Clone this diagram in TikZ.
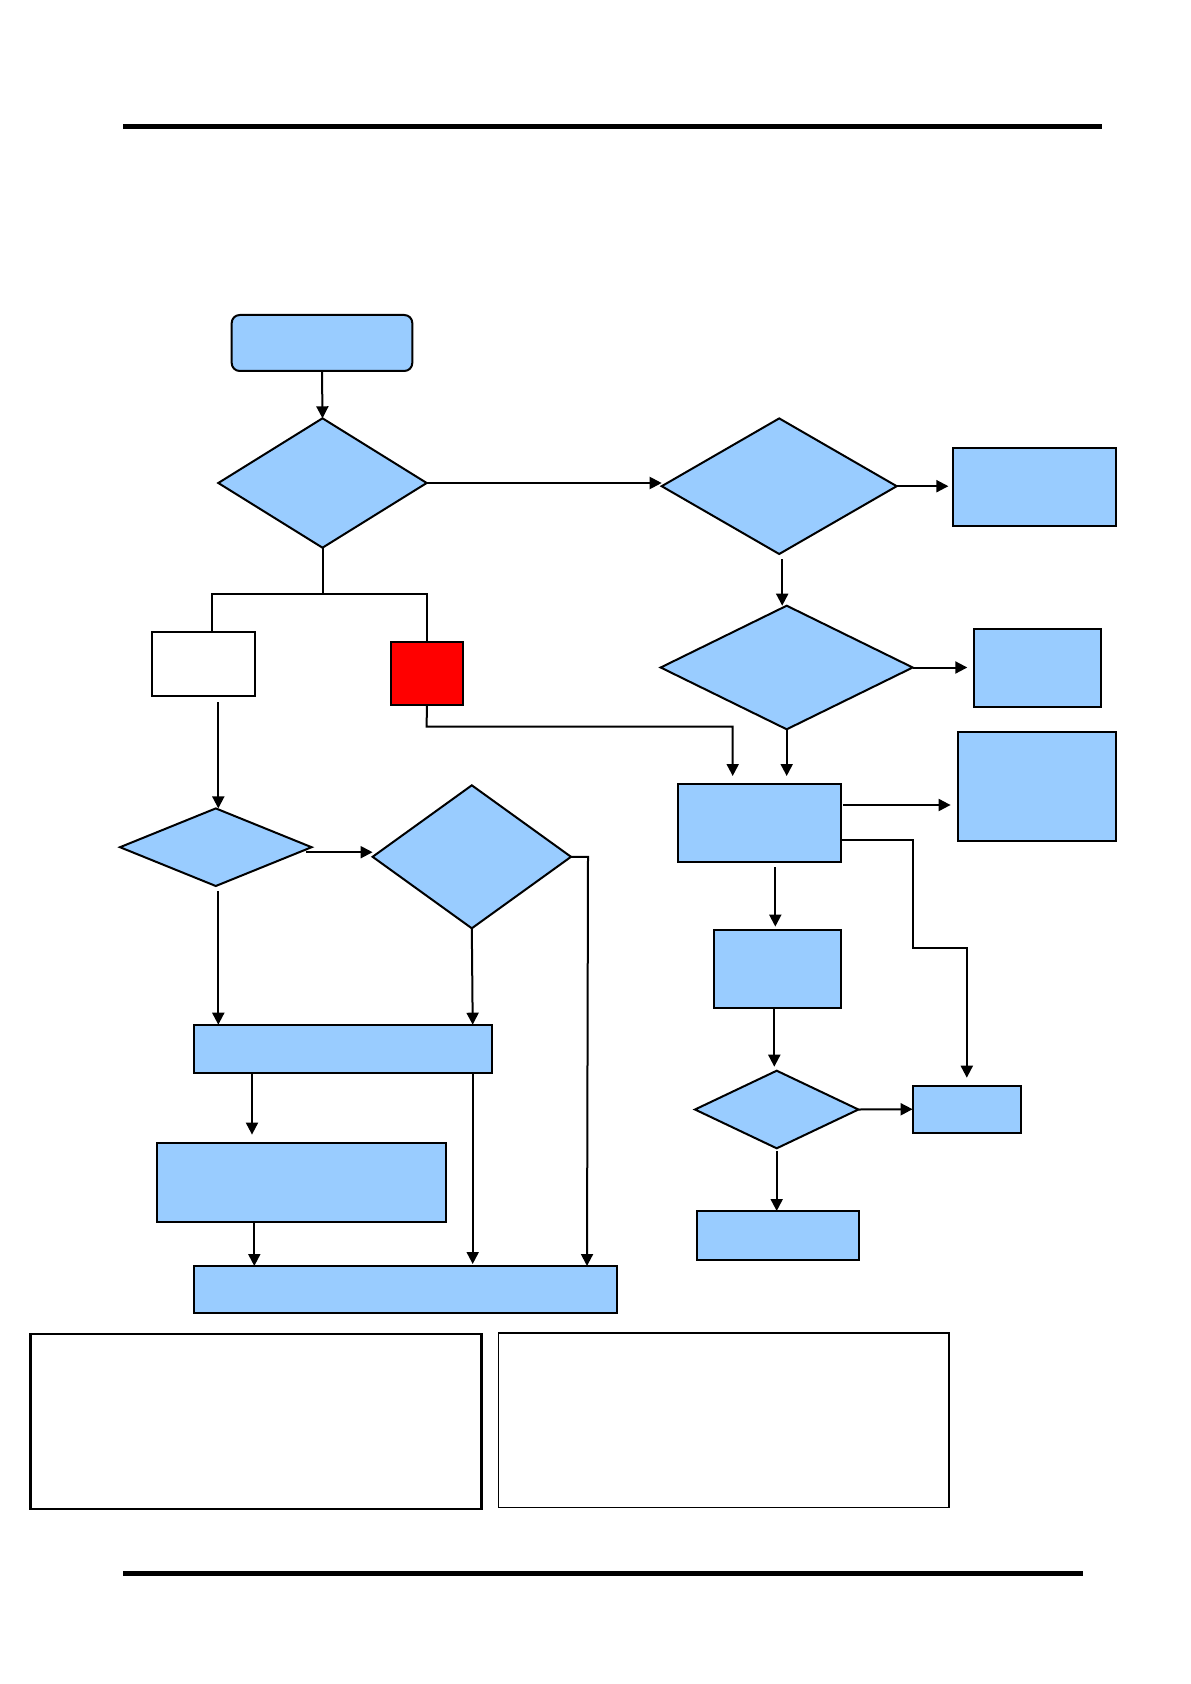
\documentclass[tikz,border=0pt]{standalone}
\usetikzlibrary{arrows.meta,shapes.geometric,calc}
\definecolor{lblue}{HTML}{99CCFF}
\definecolor{rred}{HTML}{FF0000}
\begin{document}
\begin{tikzpicture}[x=0.5pt,y=-0.5pt,
  box/.style={draw, line width=1pt, fill=lblue, inner sep=0pt, outer sep=0pt},
  dia/.style={box, diamond},
  arr/.style={-{Triangle[length=6pt,width=6pt]}, line width=1pt},
  link/.style={line width=1pt},
  rule/.style={line width=2.6pt}]
\useasboundingbox (0,0) rectangle (1190,1684);

% page rules
\draw[rule] (123,126.5) coordinate (RT1) -- (1102,126.5) coordinate (RT2);
\draw[rule] (123,1573.3) coordinate (RB1) -- (1083,1573.3) coordinate (RB2);

% nodes
\node[box, rounded corners=4pt, minimum width=90.3pt, minimum height=28pt] (S) at (322,343) {};
\node[dia, minimum width=104.2pt, minimum height=64.7pt] (D1) at (322.5,483) {};
\node[dia, minimum width=117.5pt, minimum height=67.8pt] (D2) at (779.2,486.2) {};
\node[box, minimum width=81.3pt, minimum height=39.2pt] (R1) at (1034.7,486.9) {};
\node[dia, minimum width=126pt, minimum height=61.8pt] (D3) at (786.7,667.5) {};
\node[box, minimum width=63.5pt, minimum height=39pt] (R2) at (1037.8,667.7) {};
\node[box, minimum width=79.2pt, minimum height=54.5pt] (R3) at (1036.8,786.2) {};
\node[box, fill=white, minimum width=51.8pt, minimum height=31.8pt] (W) at (203.5,664.2) {};
\node[box, fill=rred, minimum width=36.2pt, minimum height=31.7pt] (RD) at (426.8,673.3) {};
\node[dia, minimum width=95.8pt, minimum height=38.8pt] (D4) at (215.8,847.2) {};
\node[dia, minimum width=99.2pt, minimum height=71.5pt] (D5) at (471.8,856.8) {};
\node[box, minimum width=148.8pt, minimum height=24pt] (B1) at (343.2,1048.7) {};
\node[box, minimum width=144.3pt, minimum height=39.7pt] (B2) at (301.7,1182.3) {};
\node[box, minimum width=211.5pt, minimum height=23.3pt] (B3) at (405.8,1289.3) {};
\node[box, minimum width=81.5pt, minimum height=39pt] (C1) at (759.8,823) {};
\node[box, minimum width=63.3pt, minimum height=39.2pt] (C2) at (777.7,968.8) {};
\node[dia, minimum width=81.7pt, minimum height=38.8pt] (D6) at (776.7,1109.5) {};
\node[box, minimum width=54.2pt, minimum height=23.5pt] (E) at (966.8,1109.2) {};
\node[box, minimum width=81.3pt, minimum height=24.5pt] (F) at (778,1235.5) {};
\node[draw, line width=1.3pt, minimum width=225.3pt, minimum height=87.5pt, inner sep=0pt] (P1) at (256,1421.5) {};
\node[draw, line width=0.8pt, minimum width=225.3pt, minimum height=87.3pt, inner sep=0pt] (P2) at (723.7,1420) {};

% helper coordinates
\coordinate (A1) at ($(D2.south)+(3,5)$);
\coordinate (A2) at (A1 |- D3.north);
\coordinate (A3) at ($(D4.east)+(-6,5)$);
\coordinate (A4) at (A3 -| D5.west);

% connectors
\draw[arr] (S.south) -- (D1.north);
\draw[arr] (D1.east) -- (D1.east -| D2.west);
\draw[arr] (D2.east) -- ($(D2.east -| R1.west)+(-5,0)$);
\draw[arr] (A1) -- (A2);
\draw[arr] (D3.east) -- ($(D3.east -| R2.west)+(-7,0)$);
\draw[arr] (D3.south) -- ($(D3.south |- C1.north)+(0,-8)$);
\coordinate (K1) at (426.7,726.7);
\coordinate (K2) at (732.7,726.7);
\draw[arr] (RD.south) -- (K1) -- (K2) -- ($(K2 |- C1.north)+(0,-8)$);

\coordinate (J) at (322.5,594.3);
\draw[link] (D1.south) -- (J);
\draw[link] (212.3,0 |- W.north) |- (J);
\draw[link] (RD.north) |- (J);

\draw[arr] ($(218.3,0 |- W.south)+(0,6)$) -- (218.3,0 |- D4.north);
\draw[arr] (A3) -- (A4);
\coordinate (K3) at (588,856.8);
\draw[arr] (D5.east) -- (K3) -- (587,0 |- B3.north);

\draw[arr] ($(218.3,0 |- D4.south)+(0,5)$) -- (218.3,0 |- B1.north);
\draw[arr] (D5.south) -- (472.7,0 |- B1.north);
\draw[arr] (252,0 |- B1.south) -- ($(252,0 |- B2.north)+(0,-8)$);
\draw[arr] (254.3,0 |- B2.south) -- (254.3,0 |- B3.north);
\draw[arr] (472.7,0 |- B1.south) -- ($(472.7,0 |- B3.north)+(0,-2)$);

\draw[arr] ($(C1.east |- 0,805)+(2,0)$) -- ($(R3.west |- 0,805)+(-7,0)$);
\coordinate (K4) at (913.3,840);
\coordinate (K5) at (913.3,948.3);
\draw[arr] (C1.east |- K4) -- (K4) -- (K5) -| ($(E.north)+(0,-8)$);
\draw[arr] ($(775.3,0 |- C1.south)+(0,5)$) -- ($(775.3,0 |- C2.north)+(0,-3)$);
\draw[arr] (774.3,0 |- C2.south) -- ($(774.3,0 |- D6.north)+(0,-4)$);
\draw[arr] (D6.east) -- (E.west);
\draw[arr] ($(D6.south)+(0,3)$) -- (D6.south |- F.north);
\end{tikzpicture}
\end{document}
